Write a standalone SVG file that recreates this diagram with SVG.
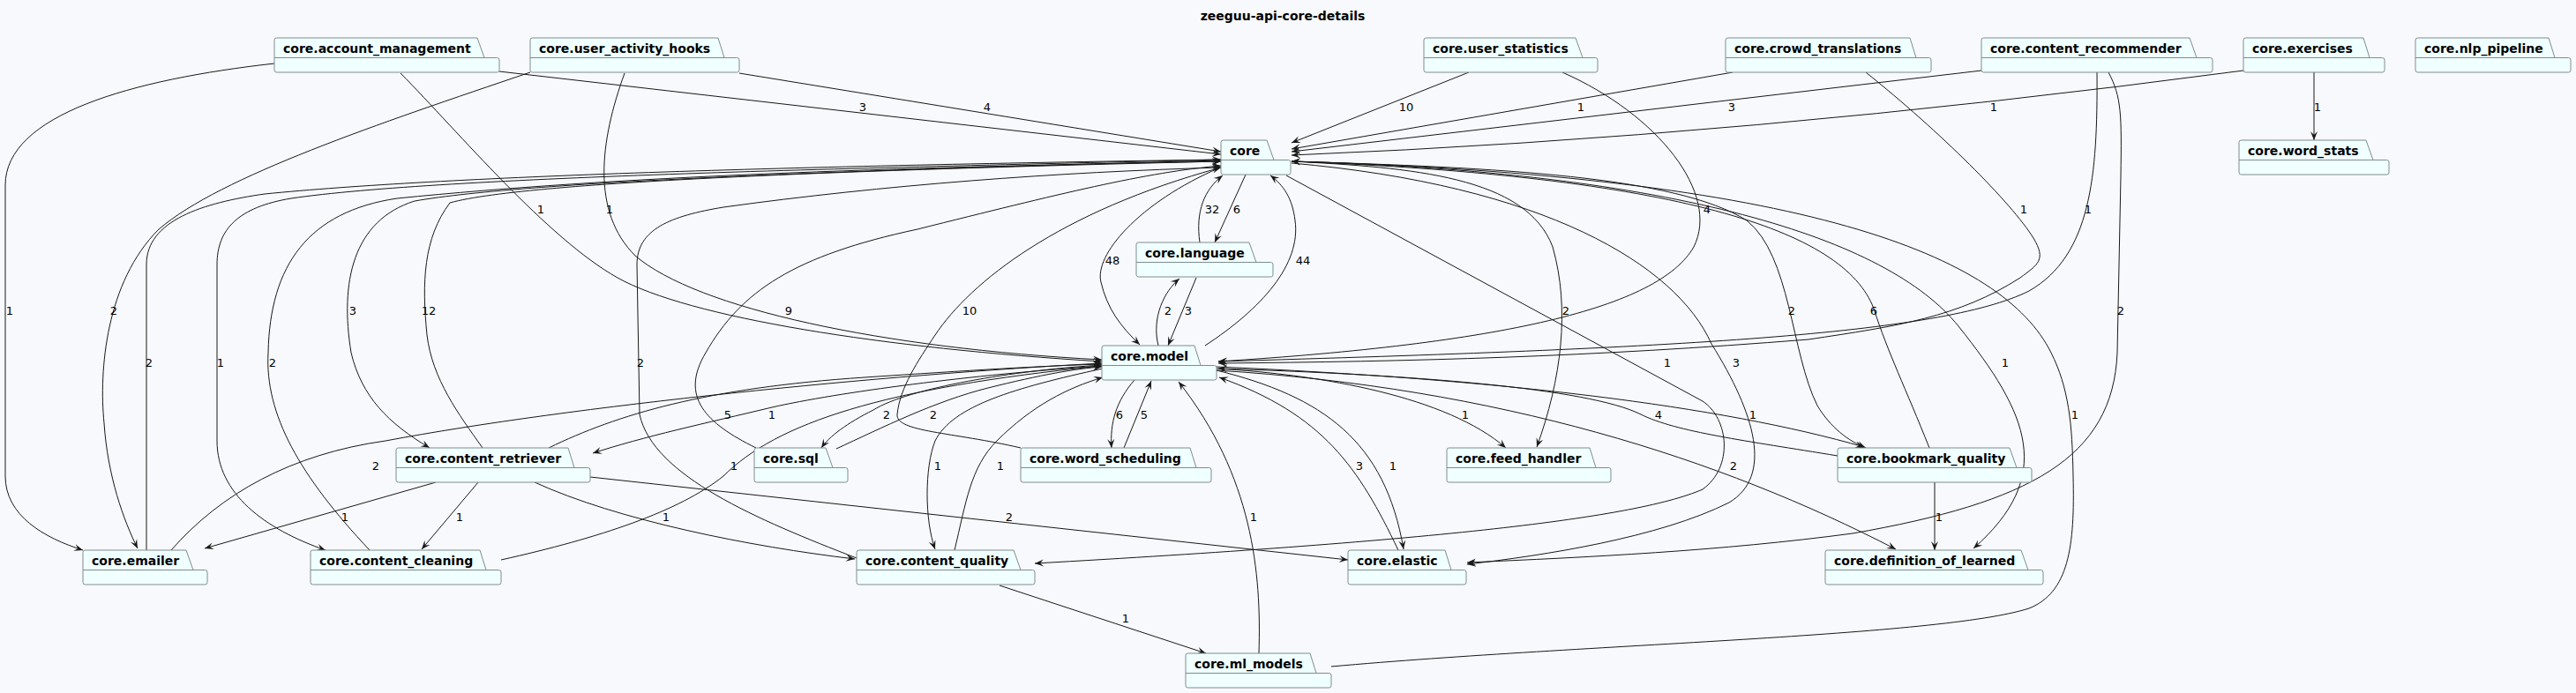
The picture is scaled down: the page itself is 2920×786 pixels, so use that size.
<svg xmlns="http://www.w3.org/2000/svg" width="2920" height="786" viewBox="0 0 2920 786">
<defs>
<marker id="arr" markerUnits="userSpaceOnUse" markerWidth="12" markerHeight="12" refX="10" refY="5" orient="auto" overflow="visible">
<path d="M10,5 L0,1 L4,5 L0,9 Z" fill="#181818"/>
</marker>
<style>
.bg{fill:#F8F9FC}
.pk{fill:#F0FFFF;stroke:#7f8c8d;stroke-width:1}
.pl{fill:none;stroke:#7f8c8d;stroke-width:1}
.nt{font-family:"DejaVu Sans",sans-serif;font-weight:bold;font-size:14px;fill:#000}
.ttl{font-family:"DejaVu Sans",sans-serif;font-weight:bold;font-size:14px;fill:#000;text-anchor:middle}
.e{fill:none;stroke:#181818;stroke-width:1;marker-end:url(#arr)}
.lb{font-family:"DejaVu Sans",sans-serif;font-size:13px;fill:#000;text-anchor:middle}
</style>
</defs>
<rect class="bg" x="0" y="0" width="2920" height="786"/>
<text class="ttl" x="1454" y="23">zeeguu-api-core-details</text>

<g id="connectors">
<path class="e" d="M311,72 C150,90 6,130 6,210 L6,540 C6,585 50,610 94,624"/>
<path class="e" d="M601,82 C430,140 250,200 180,260 C120,320 112,420 118,480 C122,540 140,590 156,622"/>
<path class="e" d="M566,81 L1384,175"/>
<path class="e" d="M838,83 L1384,172"/>
<path class="e" d="M1665,82 L1464,162"/>
<path class="e" d="M1964,82 L1464,169"/>
<path class="e" d="M2246,80 L1464,172"/>
<path class="e" d="M2543,80 Q1980,155 1464,176"/>
<path class="e" d="M2623,82 L2623,159"/>
<path class="e" d="M454,83 C520,150 620,270 700,315 C780,360 1000,395 1249,410"/>
<path class="e" d="M708,83 C680,160 670,240 720,290 C790,350 1000,395 1249,408"/>
<path class="e" d="M1771,82 C1880,130 1950,220 1920,280 C1880,350 1700,390 1381,410"/>
<path class="e" d="M2115,82 C2200,150 2280,230 2305,270 C2320,295 2310,300 2290,315 C2220,360 2150,370 2050,385 C1800,405 1600,410 1381,412"/>
<path class="e" d="M2377,82 C2378,200 2370,290 2300,330 C2200,380 1900,395 1381,410"/>
<path class="e" d="M166,624 L166,300 C166,250 230,230 300,220 C500,200 900,188 1384,181"/>
<path class="e" d="M1384,181 C1000,190 500,200 330,225 C270,235 246,260 246,300 L246,500 C246,560 300,600 369,624"/>
<path class="e" d="M419,624 C340,540 300,470 304,400 C306,300 350,240 450,225 C700,200 1000,190 1384,183"/>
<path class="e" d="M1384,182 C1000,192 600,205 470,228 C400,250 385,320 398,400 C410,450 440,480 487,508"/>
<path class="e" d="M547,508 C520,470 490,430 484,380 C478,320 480,270 510,230 C600,205 1000,192 1384,183"/>
<path class="e" d="M857,508 C800,480 770,450 800,400 C840,330 900,290 1040,260 C1200,220 1300,195 1384,188"/>
<path class="e" d="M1157,508 C1080,490 1015,490 1017,470 C1020,440 1040,410 1060,380 C1100,320 1200,240 1384,190"/>
<path class="e" d="M971,633 C860,590 740,540 725,470 L722,300 C722,260 760,245 820,235 C1000,210 1200,195 1384,190"/>
<path class="e" d="M622,508 C700,470 800,440 980,428 C1100,420 1180,415 1249,413"/>
<path class="e" d="M1249,415 C1100,425 950,445 875,462 C800,480 730,495 672,514"/>
<path class="e" d="M948,509 C1000,485 1060,455 1120,440 C1180,425 1220,418 1249,416"/>
<path class="e" d="M1249,414 C1150,420 1030,440 990,465 C960,480 940,495 931,508"/>
<path class="e" d="M194,624 C250,560 330,515 437,500 C650,460 1000,425 1249,412"/>
<path class="e" d="M568,635 C680,610 770,580 820,540 C880,480 1000,440 1249,415"/>
<path class="e" d="M1250,418 C1150,440 1080,460 1060,500 C1048,530 1048,590 1060,623"/>
<path class="e" d="M1082,624 C1095,570 1100,530 1130,500 C1170,460 1210,440 1250,428"/>
<path class="e" d="M1427,741 C1430,650 1420,540 1336,433"/>
<path class="e" d="M1286,431 C1265,455 1258,480 1260,508"/>
<path class="e" d="M1274,508 L1305,432"/>
<path class="e" d="M1585,624 C1540,530 1500,470 1382,428"/>
<path class="e" d="M1379,420 C1500,450 1570,500 1591,623"/>
<path class="e" d="M1379,418 C1500,425 1640,450 1707,508"/>
<path class="e" d="M1464,183 C1600,190 1730,200 1760,280 C1780,350 1770,430 1742,507"/>
<path class="e" d="M1464,183 C1700,190 1900,200 1980,250 C2030,290 2030,400 2060,460 C2075,485 2095,500 2115,508"/>
<path class="e" d="M2187,508 C2160,440 2140,400 2124,350 C2090,260 1900,200 1464,183"/>
<path class="e" d="M1464,183 C1900,195 2140,270 2220,370 C2300,470 2330,540 2237,622"/>
<path class="e" d="M1509,756 C1800,730 2200,722 2300,690 C2345,672 2352,620 2350,540 C2349,480 2345,440 2325,400 C2270,290 2050,200 1464,183"/>
<path class="e" d="M2390,82 C2405,110 2405,130 2404,200 L2400,400 C2395,520 2300,570 2100,605 C1950,625 1800,632 1663,638"/>
<path class="e" d="M1464,185 C1750,210 1900,300 1940,390 C1990,470 2010,540 1960,570 C1880,610 1750,630 1663,640"/>
<path class="e" d="M1458,199 L1930,455 C1960,475 1965,530 1930,555 C1850,590 1600,615 1173,639"/>
<path class="e" d="M1379,416 C1700,430 1950,460 2113,507"/>
<path class="e" d="M2083,517 C1980,500 1900,490 1860,470 C1800,440 1600,425 1381,418"/>
<path class="e" d="M1379,420 C1700,440 1950,520 2149,623"/>
<path class="e" d="M2193,547 L2193,624"/>
<path class="e" d="M494,547 L232,622"/>
<path class="e" d="M542,547 L478,623"/>
<path class="e" d="M606,547 C700,590 850,620 969,634"/>
<path class="e" d="M669,541 L1528,635"/>
<path class="e" d="M1133,664 L1367,741"/>
<path class="e" d="M1313,392 C1305,360 1320,330 1337,316"/>
<path class="e" d="M1356,315 L1324,392"/>
<path class="e" d="M1360,275 C1355,240 1365,215 1386,199"/>
<path class="e" d="M1412,198 L1377,275"/>
<path class="e" d="M1383,190 C1290,230 1240,290 1248,320 C1255,350 1270,370 1292,391"/>
<path class="e" d="M1366,392 C1430,350 1475,300 1468,250 C1465,225 1455,210 1440,199"/>

<text class="lb" x="978" y="126">3</text>
<text class="lb" x="1119" y="126">4</text>
<text class="lb" x="1594" y="126">10</text>
<text class="lb" x="1792" y="126">1</text>
<text class="lb" x="1963" y="126">3</text>
<text class="lb" x="2260" y="126">1</text>
<text class="lb" x="2627" y="126">1</text>
<text class="lb" x="613" y="242">1</text>
<text class="lb" x="691" y="242">1</text>
<text class="lb" x="1374" y="242">32</text>
<text class="lb" x="1402" y="242">6</text>
<text class="lb" x="1935" y="242">4</text>
<text class="lb" x="2294" y="242">1</text>
<text class="lb" x="2367" y="242">1</text>
<text class="lb" x="1261" y="300">48</text>
<text class="lb" x="1477" y="300">44</text>
<text class="lb" x="11" y="357">1</text>
<text class="lb" x="129" y="357">2</text>
<text class="lb" x="400" y="357">3</text>
<text class="lb" x="486" y="357">12</text>
<text class="lb" x="894" y="357">9</text>
<text class="lb" x="1099" y="357">10</text>
<text class="lb" x="1324" y="357">2</text>
<text class="lb" x="1347" y="357">3</text>
<text class="lb" x="1775" y="357">2</text>
<text class="lb" x="2031" y="357">2</text>
<text class="lb" x="2124" y="357">6</text>
<text class="lb" x="2404" y="357">2</text>
<text class="lb" x="169" y="416">2</text>
<text class="lb" x="250" y="416">1</text>
<text class="lb" x="309" y="416">2</text>
<text class="lb" x="726" y="416">2</text>
<text class="lb" x="1890" y="416">1</text>
<text class="lb" x="1968" y="416">3</text>
<text class="lb" x="2273" y="416">1</text>
<text class="lb" x="825" y="475">5</text>
<text class="lb" x="875" y="475">1</text>
<text class="lb" x="1005" y="475">2</text>
<text class="lb" x="1058" y="475">2</text>
<text class="lb" x="1269" y="475">6</text>
<text class="lb" x="1297" y="475">5</text>
<text class="lb" x="1661" y="475">1</text>
<text class="lb" x="1880" y="475">4</text>
<text class="lb" x="1987" y="475">1</text>
<text class="lb" x="2352" y="475">1</text>
<text class="lb" x="426" y="533">2</text>
<text class="lb" x="832" y="533">1</text>
<text class="lb" x="1063" y="533">1</text>
<text class="lb" x="1134" y="533">1</text>
<text class="lb" x="1541" y="533">3</text>
<text class="lb" x="1579" y="533">1</text>
<text class="lb" x="1965" y="533">2</text>
<text class="lb" x="391" y="591">1</text>
<text class="lb" x="521" y="591">1</text>
<text class="lb" x="755" y="591">1</text>
<text class="lb" x="1144" y="591">2</text>
<text class="lb" x="1421" y="591">1</text>
<text class="lb" x="2198" y="591">1</text>
<text class="lb" x="1276" y="706">1</text>
</g>

<g id="core.account_management"><path class="pk" d="M313.5,43 L541,43 L549,65.5 L563.5,65.5 Q566,65.5 566,68 L566,79.5 Q566,82 563.5,82 L313.5,82 Q311,82 311,79.5 L311,45.5 Q311,43 313.5,43 Z"/><path class="pl" d="M311,65.5 H549"/><text class="nt" x="321" y="60">core.account_management</text></g>
<g id="core.user_activity_hooks"><path class="pk" d="M603.5,43 L814,43 L821,65.5 L835.5,65.5 Q838,65.5 838,68 L838,79.5 Q838,82 835.5,82 L603.5,82 Q601,82 601,79.5 L601,45.5 Q601,43 603.5,43 Z"/><path class="pl" d="M601,65.5 H821"/><text class="nt" x="611" y="60">core.user_activity_hooks</text></g>
<g id="core.user_statistics"><path class="pk" d="M1616.5,43 L1786,43 L1794,65.5 L1808.5,65.5 Q1811,65.5 1811,68 L1811,79.5 Q1811,82 1808.5,82 L1616.5,82 Q1614,82 1614,79.5 L1614,45.5 Q1614,43 1616.5,43 Z"/><path class="pl" d="M1614,65.5 H1794"/><text class="nt" x="1624" y="60">core.user_statistics</text></g>
<g id="core.crowd_translations"><path class="pk" d="M1958.5,43 L2165,43 L2172,65.5 L2186.5,65.5 Q2189,65.5 2189,68 L2189,79.5 Q2189,82 2186.5,82 L1958.5,82 Q1956,82 1956,79.5 L1956,45.5 Q1956,43 1958.5,43 Z"/><path class="pl" d="M1956,65.5 H2172"/><text class="nt" x="1966" y="60">core.crowd_translations</text></g>
<g id="core.content_recommender"><path class="pk" d="M2248.5,43 L2482,43 L2490,65.5 L2505.5,65.5 Q2508,65.5 2508,68 L2508,79.5 Q2508,82 2505.5,82 L2248.5,82 Q2246,82 2246,79.5 L2246,45.5 Q2246,43 2248.5,43 Z"/><path class="pl" d="M2246,65.5 H2490"/><text class="nt" x="2256" y="60">core.content_recommender</text></g>
<g id="core.exercises"><path class="pk" d="M2545.5,43 L2679,43 L2686,65.5 L2700.5,65.5 Q2703,65.5 2703,68 L2703,79.5 Q2703,82 2700.5,82 L2545.5,82 Q2543,82 2543,79.5 L2543,45.5 Q2543,43 2545.5,43 Z"/><path class="pl" d="M2543,65.5 H2686"/><text class="nt" x="2553" y="60">core.exercises</text></g>
<g id="core.nlp_pipeline"><path class="pk" d="M2740.5,43 L2889,43 L2896,65.5 L2911.5,65.5 Q2914,65.5 2914,68 L2914,79.5 Q2914,82 2911.5,82 L2740.5,82 Q2738,82 2738,79.5 L2738,45.5 Q2738,43 2740.5,43 Z"/><path class="pl" d="M2738,65.5 H2896"/><text class="nt" x="2748" y="60">core.nlp_pipeline</text></g>
<g id="core"><path class="pk" d="M1386.5,159 L1436,159 L1444,181.5 L1460.5,181.5 Q1463,181.5 1463,184 L1463,195.5 Q1463,198 1460.5,198 L1386.5,198 Q1384,198 1384,195.5 L1384,161.5 Q1384,159 1386.5,159 Z"/><path class="pl" d="M1384,181.5 H1444"/><text class="nt" x="1394" y="176">core</text></g>
<g id="core.word_stats"><path class="pk" d="M2540.5,159 L2682,159 L2690,181.5 L2705.5,181.5 Q2708,181.5 2708,184 L2708,195.5 Q2708,198 2705.5,198 L2540.5,198 Q2538,198 2538,195.5 L2538,161.5 Q2538,159 2540.5,159 Z"/><path class="pl" d="M2538,181.5 H2690"/><text class="nt" x="2548" y="176">core.word_stats</text></g>
<g id="core.language"><path class="pk" d="M1290.5,275 L1416,275 L1424,297.5 L1440.5,297.5 Q1443,297.5 1443,300 L1443,311.5 Q1443,314 1440.5,314 L1290.5,314 Q1288,314 1288,311.5 L1288,277.5 Q1288,275 1290.5,275 Z"/><path class="pl" d="M1288,297.5 H1424"/><text class="nt" x="1298" y="292">core.language</text></g>
<g id="core.model"><path class="pk" d="M1251.5,392 L1354,392 L1361,414.5 L1376.5,414.5 Q1379,414.5 1379,417 L1379,428.5 Q1379,431 1376.5,431 L1251.5,431 Q1249,431 1249,428.5 L1249,394.5 Q1249,392 1251.5,392 Z"/><path class="pl" d="M1249,414.5 H1361"/><text class="nt" x="1259" y="409">core.model</text></g>
<g id="core.content_retriever"><path class="pk" d="M451.5,508 L644,508 L651,530.5 L666.5,530.5 Q669,530.5 669,533 L669,544.5 Q669,547 666.5,547 L451.5,547 Q449,547 449,544.5 L449,510.5 Q449,508 451.5,508 Z"/><path class="pl" d="M449,530.5 H651"/><text class="nt" x="459" y="525">core.content_retriever</text></g>
<g id="core.sql"><path class="pk" d="M857.5,508 L936,508 L944,530.5 L958.5,530.5 Q961,530.5 961,533 L961,544.5 Q961,547 958.5,547 L857.5,547 Q855,547 855,544.5 L855,510.5 Q855,508 857.5,508 Z"/><path class="pl" d="M855,530.5 H944"/><text class="nt" x="865" y="525">core.sql</text></g>
<g id="core.word_scheduling"><path class="pk" d="M1159.5,508 L1349,508 L1356,530.5 L1370.5,530.5 Q1373,530.5 1373,533 L1373,544.5 Q1373,547 1370.5,547 L1159.5,547 Q1157,547 1157,544.5 L1157,510.5 Q1157,508 1159.5,508 Z"/><path class="pl" d="M1157,530.5 H1356"/><text class="nt" x="1167" y="525">core.word_scheduling</text></g>
<g id="core.feed_handler"><path class="pk" d="M1642.5,508 L1802,508 L1809,530.5 L1823.5,530.5 Q1826,530.5 1826,533 L1826,544.5 Q1826,547 1823.5,547 L1642.5,547 Q1640,547 1640,544.5 L1640,510.5 Q1640,508 1642.5,508 Z"/><path class="pl" d="M1640,530.5 H1809"/><text class="nt" x="1650" y="525">core.feed_handler</text></g>
<g id="core.bookmark_quality"><path class="pk" d="M2085.5,508 L2278,508 L2286,530.5 L2300.5,530.5 Q2303,530.5 2303,533 L2303,544.5 Q2303,547 2300.5,547 L2085.5,547 Q2083,547 2083,544.5 L2083,510.5 Q2083,508 2085.5,508 Z"/><path class="pl" d="M2083,530.5 H2286"/><text class="nt" x="2093" y="525">core.bookmark_quality</text></g>
<g id="core.emailer"><path class="pk" d="M96.5,624 L211,624 L219,646.5 L232.5,646.5 Q235,646.5 235,649 L235,660.5 Q235,663 232.5,663 L96.5,663 Q94,663 94,660.5 L94,626.5 Q94,624 96.5,624 Z"/><path class="pl" d="M94,646.5 H219"/><text class="nt" x="104" y="641">core.emailer</text></g>
<g id="core.content_cleaning"><path class="pk" d="M354.5,624 L544,624 L551,646.5 L565.5,646.5 Q568,646.5 568,649 L568,660.5 Q568,663 565.5,663 L354.5,663 Q352,663 352,660.5 L352,626.5 Q352,624 354.5,624 Z"/><path class="pl" d="M352,646.5 H551"/><text class="nt" x="362" y="641">core.content_cleaning</text></g>
<g id="core.content_quality"><path class="pk" d="M973.5,624 L1149,624 L1157,646.5 L1170.5,646.5 Q1173,646.5 1173,649 L1173,660.5 Q1173,663 1170.5,663 L973.5,663 Q971,663 971,660.5 L971,626.5 Q971,624 973.5,624 Z"/><path class="pl" d="M971,646.5 H1157"/><text class="nt" x="981" y="641">core.content_quality</text></g>
<g id="core.elastic"><path class="pk" d="M1530.5,624 L1638,624 L1645,646.5 L1659.5,646.5 Q1662,646.5 1662,649 L1662,660.5 Q1662,663 1659.5,663 L1530.5,663 Q1528,663 1528,660.5 L1528,626.5 Q1528,624 1530.5,624 Z"/><path class="pl" d="M1528,646.5 H1645"/><text class="nt" x="1538" y="641">core.elastic</text></g>
<g id="core.definition_of_learned"><path class="pk" d="M2071.5,624 L2291,624 L2299,646.5 L2313.5,646.5 Q2316,646.5 2316,649 L2316,660.5 Q2316,663 2313.5,663 L2071.5,663 Q2069,663 2069,660.5 L2069,626.5 Q2069,624 2071.5,624 Z"/><path class="pl" d="M2069,646.5 H2299"/><text class="nt" x="2079" y="641">core.definition_of_learned</text></g>
<g id="core.ml_models"><path class="pk" d="M1346.5,741 L1485,741 L1492,763.5 L1506.5,763.5 Q1509,763.5 1509,766 L1509,777.5 Q1509,780 1506.5,780 L1346.5,780 Q1344,780 1344,777.5 L1344,743.5 Q1344,741 1346.5,741 Z"/><path class="pl" d="M1344,763.5 H1492"/><text class="nt" x="1354" y="758">core.ml_models</text></g>
</svg>
